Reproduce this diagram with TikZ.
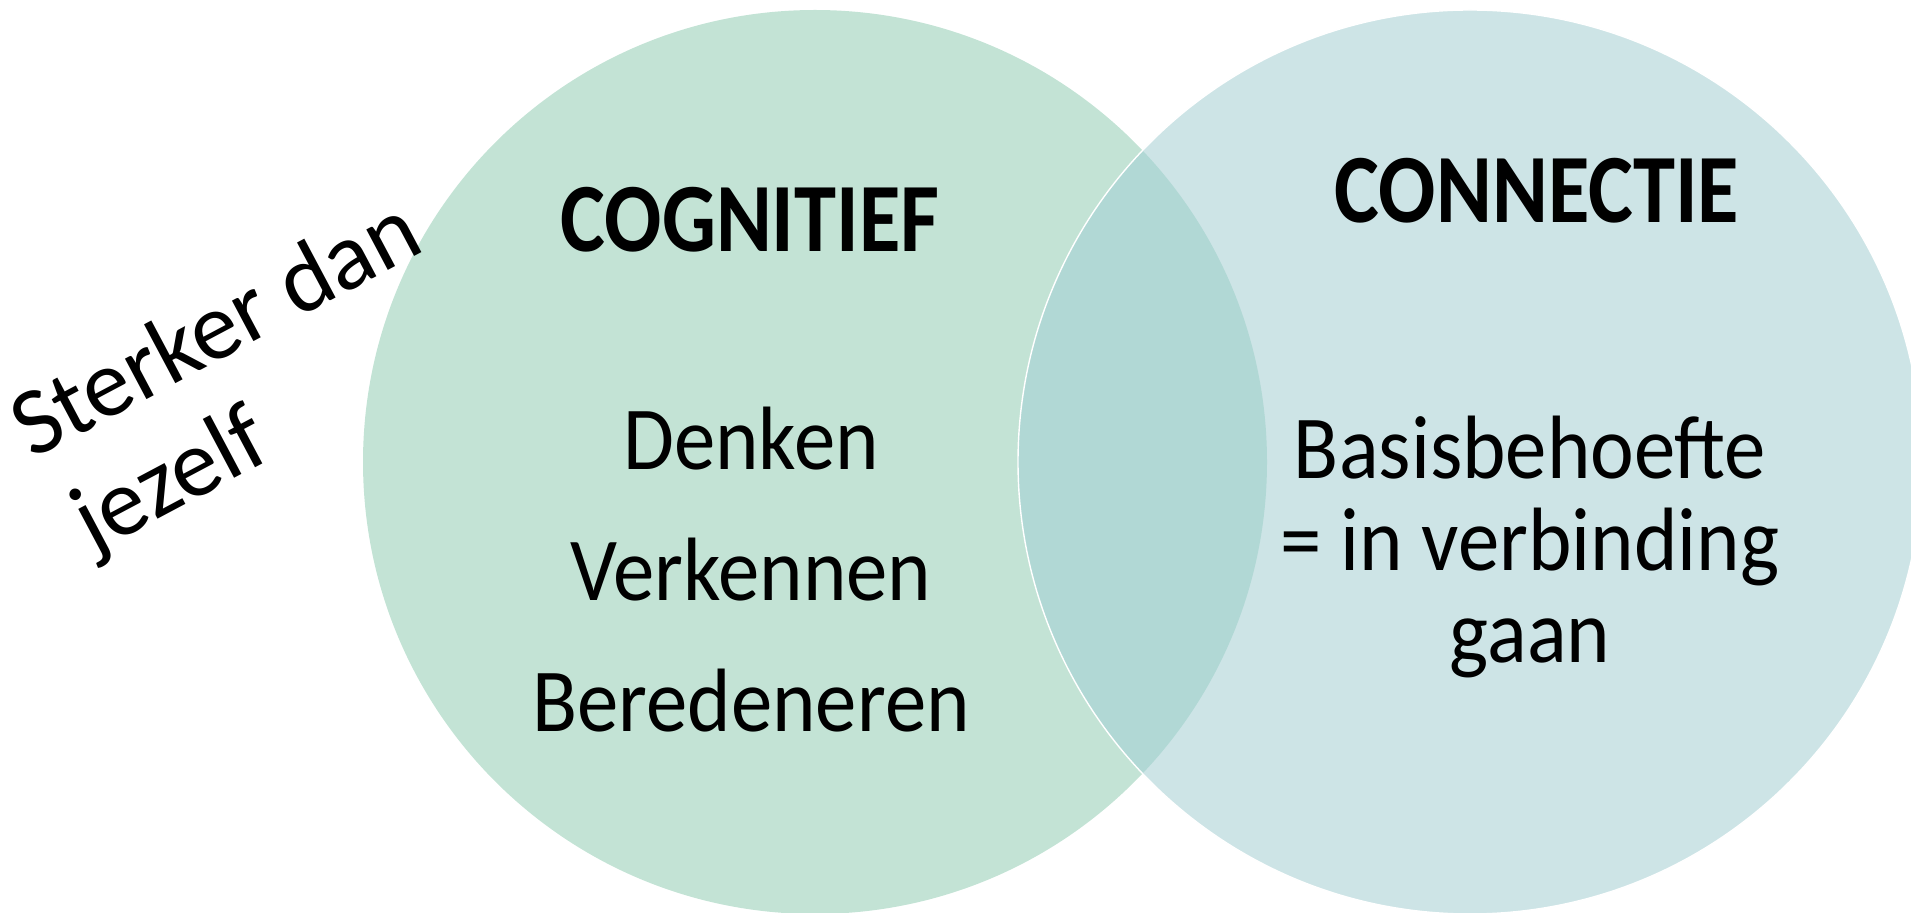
\documentclass[tikz,border=0pt]{standalone}
\usepackage{fontspec}
\setmainfont{Carlito}
\newfontfamily\itemfont{Carlito}[FakeStretch=0.92]
\newfontfamily\headfont{Carlito}[FakeStretch=0.865]
\usetikzlibrary{positioning}
\definecolor{cogfill}{RGB}{195,227,213}
\definecolor{confill}{RGB}{205,228,230}
\definecolor{overlapfill}{RGB}{177,216,213}
\tikzset{%
  % Specifications for style of nodes:
        base/.style = {inner sep=0pt, text height=0.7em, text depth=0.25em},
     heading/.style = {base, font=\fontsize{49}{59}\headfont\bfseries},
        item/.style = {base, font=\fontsize{45}{54}\itemfont},
       aside/.style = {base, font=\fontsize{48}{58}\selectfont,
                       rotate=28, anchor=base west},
}

\begin{document}
\begin{tikzpicture}[x=0.5pt, y=-0.5pt, node distance=65.5pt]
  \useasboundingbox (0,0) rectangle (1911,913);

  % The two circles and their overlap
  \coordinate (cogC) at (815,462);
  \coordinate (conC) at (1470,462);
  \fill[cogfill] (cogC) circle[radius=226pt];
  \fill[confill] (conC) circle[radius=226pt];
  \begin{scope}
    \clip (cogC) circle[radius=226pt];
    \fill[overlapfill] (conC) circle[radius=226pt];
  \end{scope}
  \draw[white, line width=0.7pt] (conC) circle[radius=226pt];

  % Texts inside the circles
  \node (cognitief)   [heading, anchor=base] at (750,252)  {COGNITIEF};
  \node (connectie)   [heading, anchor=base] at (1537,223) {CONNECTIE};
  \node (denken)      [item, anchor=base] at (751,470)     {Denken};
  \node (verkennen)   [item, below of=denken]              {Verkennen};
  \node (beredeneren) [item, below of=verkennen]           {Beredeneren};
  \node (basis)       [item, anchor=base] at (1530,479)    {Basisbehoefte};
  \node (verbinding)  [item, below of=basis, node distance=46pt] {= in verbinding};
  \node (gaan)        [item, below of=verbinding, node distance=46pt] {gaan};

  % Slanted text on the left
  \node (sterker) [aside] at (32,460) {Sterker dan};
  \node (jezelf)  [aside] at (93,554) {jezelf};
\end{tikzpicture}
\end{document}
